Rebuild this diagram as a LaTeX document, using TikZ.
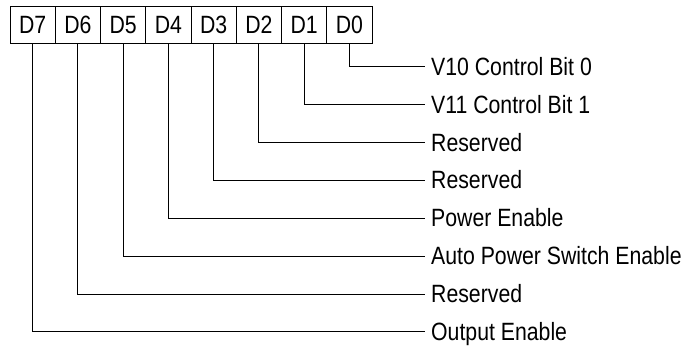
\documentclass[tikz,border=0pt]{standalone}
\usepackage{fontspec}
\setmainfont{Liberation Sans}[FakeStretch=0.85]
\begin{document}
\begin{tikzpicture}[x=1pt,y=-1pt,
  bitbox/.style={draw,line width=0.8pt,minimum width=45.25pt,minimum height=36.5pt,inner sep=0pt,
    font=\fontsize{25}{30}\selectfont,text height=17.5pt,text depth=0pt},
  lbl/.style={anchor=west,inner sep=0pt,font=\fontsize{25}{30}\selectfont,text height=17.5pt,text depth=0pt},
  conn/.style={draw,line width=0.8pt}]
\useasboundingbox (0,0) rectangle (682,347);
\foreach \i/\k in {7/0,6/1,5/2,4/3,3/4,2/5,1/6,0/7} {
  \node[bitbox] (d\i) at ({10+45.25*(\k+0.5)},24.75) {D\i};
}
\node[lbl] (t0) at (431,66.5) {V10 Control Bit 0};
\node[lbl] (t1) at (431,104.4) {V11 Control Bit 1};
\node[lbl] (t2) at (431,142.3) {Reserved};
\node[lbl] (t3) at (431,180.2) {Reserved};
\node[lbl] (t4) at (431,218.1) {Power Enable};
\node[lbl] (t5) at (431,256) {Auto Power Switch Enable};
\node[lbl] (t6) at (431,293.9) {Reserved};
\node[lbl] (t7) at (431,331.8) {Output Enable};
\foreach \i in {0,...,7} {
  \draw[conn] (d\i.south) |- ([xshift=-6pt]t\i.west);
}
\end{tikzpicture}
\end{document}
